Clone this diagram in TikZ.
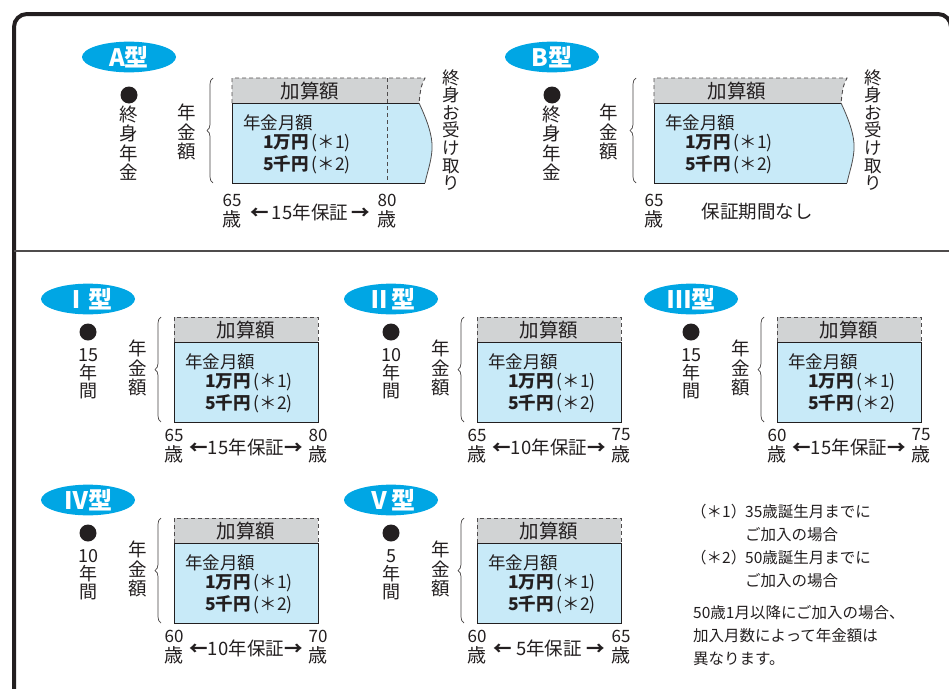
\documentclass[tikz,border=0pt]{standalone}
\usepackage{fontspec}
\setmainfont{Noto Sans CJK JP}
\usetikzlibrary{decorations.pathreplacing,calc,shapes.geometric}
\definecolor{ink}{HTML}{231F20}
\definecolor{hdrgray}{HTML}{D1D3D4}
\definecolor{bodyblue}{HTML}{C8EAF8}
\definecolor{lblcyan}{HTML}{00A6E4}
\newcommand\fsz[2]{\fontsize{#1}{#2}\selectfont}
\newcommand\la{\textbf{←}}
\newcommand\ra{\textbf{→}}
\tikzset{
  lbl/.style={ellipse,fill=lblcyan,minimum width=94pt,minimum height=30pt,inner sep=0pt,text=white,font=\fsz{24}{24}\bfseries},
  vtxt/.style={align=center,font=\fsz{18.5}{19.5}},
  vtxtn/.style={align=center,font=\fsz{18}{18}},
  hdrtxt/.style={font=\fsz{19.5}{19.5}},
  bodytxt/.style={font=\fsz{17.5}{17.5},anchor=west},
  agenum/.style={font=\fsz{17}{17}},
  agesai/.style={font=\fsz{19}{19}},
  midtxt/.style={font=\fsz{18.5}{18.5}},
  notetxt/.style={font=\fsz{15.5}{15.5},anchor=west},
  hdrline/.style={draw=ink!80,line width=0.9pt,dash pattern=on 4pt off 3pt},
  boxline/.style={draw=ink,line width=0.9pt},
  bracestyle/.style={draw=ink!85,line width=0.7pt,decorate,decoration={brace,amplitude=6pt}},
  dotstyle/.style={circle,fill=ink,minimum size=17pt,inner sep=0pt},
}
\newcommand\bodytexts[3]{% name, x0, y0
  \node[bodytxt] (#1m) at ({#2+11},{#3+45}) {年金月額};
  \node[bodytxt] (#1a) at ({#2+31},{#3+65}) {\textbf{1万円}\,(＊1)};
  \node[bodytxt] (#1b) at ({#2+31},{#3+87}) {\textbf{5千円}\,(＊2)};
}
% age stack: name, x, y(top number centre), number
\newcommand\agestack[4]{%
  \node[agenum] (#1n) at (#2,#3) {#4};
  \node[agesai] (#1y) at (#2,{#3+19}) {歳};
}
% small box: name, x0, y0, label, period, age1, middle, age2
\newcommand\rowbox[8]{%
  \fill[hdrgray] (#2,#3) rectangle ({#2+144},{#3+25});
  \fill[bodyblue] (#2,{#3+25}) rectangle ({#2+144},{#3+105});
  \draw[hdrline] (#2,{#3+25}) -- (#2,#3) -- ({#2+144},#3) -- ({#2+144},{#3+25});
  \draw[boxline] (#2,{#3+25}) rectangle ({#2+144},{#3+105});
  \node[hdrtxt] (#1h) at ({#2+72},{#3+13}) {加算額};
  \bodytexts{#1}{#2}{#3}
  \node[lbl] (#1l) at ({#2-86},{#3-18}) {#4};
  \node[dotstyle] (#1d) at ({#2-86},{#3+15}) {};
  \node[vtxtn] (#1p) at ({#2-86},{#3+57}) {#5};
  \node[vtxt] (#1k) at ({#2-36},{#3+51}) {年\\金\\額};
  \draw[bracestyle] ({#2-13},{#3+105}) -- ({#2-13},#3);
  \agestack{#1s}{#2}{#3+118}{#6}
  \agestack{#1e}{#2+144}{#3+118}{#8}
  \node[midtxt] (#1c) at ({#2+72},{#3+130}) {#7};
}
\begin{document}
\begin{tikzpicture}[x=1pt,y=-1pt,every node/.style={text=ink,inner sep=0pt}]
\useasboundingbox (0,0) rectangle (949,688);
\clip (0,0) rectangle (949,688);
% frame
\draw[ink,line width=4pt,rounded corners=13pt] (14,720) -- (14,14) -- (951,14) -- (951,720);
\draw[ink!80,line width=1.2pt] (14,251) -- (949,251);

% ---------- A type ----------
\fill[hdrgray] (232,78) -- (425,78) .. controls (421,86) .. (419,103) -- (232,103) -- cycle;
\fill[bodyblue] (232,103) -- (419,103) .. controls (426,118) and (433,135) .. (432,150) .. controls (431,163) and (427,173) .. (425,183) -- (232,183) -- cycle;
\draw[hdrline] (232,103) -- (232,78) -- (425,78) .. controls (421,86) .. (419,103);
\draw[boxline] (419,103) -- (232,103) -- (232,183) -- (425,183);
\draw[ink!80,line width=0.8pt] (419,103) .. controls (426,118) and (433,135) .. (432,150) .. controls (431,163) and (427,173) .. (425,183);
\draw[hdrline] (387,78) -- (387,183);
\node[hdrtxt] (Ah) at (310,91) {加算額};
\bodytexts{A}{232}{78}
\node[lbl] (Al) at (129,57) {A型};
\node[dotstyle] (Ad) at (129,95) {};
\node[vtxt] (Ap) at (129,143) {終\\身\\年\\金};
\node[vtxt] (Ak) at (187,132) {年\\金\\額};
\draw[bracestyle] (213,183) -- (213,78);
\node[align=center,font=\fsz{17.5}{17.6}] (Ar) at (451,130) {終\\身\\お\\受\\け\\取\\り};
\agestack{As}{232}{200}{65}
\agestack{Ae}{387}{200}{80}
\node[midtxt] (Ac) at (310,212) {\la\,15年保証\,\ra};

% ---------- B type ----------
\fill[hdrgray] (654,78) -- (847,78) .. controls (843,86) .. (841,103) -- (654,103) -- cycle;
\fill[bodyblue] (654,103) -- (841,103) .. controls (848,118) and (855,135) .. (854,150) .. controls (853,163) and (849,173) .. (847,183) -- (654,183) -- cycle;
\draw[hdrline] (654,103) -- (654,78) -- (847,78) .. controls (843,86) .. (841,103);
\draw[boxline] (841,103) -- (654,103) -- (654,183) -- (847,183);
\draw[ink!80,line width=0.8pt] (841,103) .. controls (848,118) and (855,135) .. (854,150) .. controls (853,163) and (849,173) .. (847,183);
\node[hdrtxt] (Bh) at (737,91) {加算額};
\bodytexts{B}{654}{78}
\node[lbl] (Bl) at (552,57) {B型};
\node[dotstyle] (Bd) at (552,95) {};
\node[vtxt] (Bp) at (552,143) {終\\身\\年\\金};
\node[vtxt] (Bk) at (609,132) {年\\金\\額};
\draw[bracestyle] (636,183) -- (636,78);
\node[align=center,font=\fsz{17.5}{17.6}] (Br) at (873,130) {終\\身\\お\\受\\け\\取\\り};
\agestack{Bs}{654}{200}{65}
\node[midtxt] (Bc) at (757,212) {保証期間なし};

% ---------- rows ----------
\rowbox{I}{174}{317}{Ⅰ型}{15\\年\\間}{65}{\la15年保証\ra}{80}
\rowbox{II}{477}{317}{Ⅱ型}{10\\年\\間}{65}{\la10年保証\ra}{75}
\rowbox{III}{777}{317}{Ⅲ型}{15\\年\\間}{60}{\la15年保証\ra}{75}
\rowbox{IV}{174}{518}{Ⅳ型}{10\\年\\間}{60}{\la10年保証\ra}{70}
\rowbox{V}{477}{518}{Ⅴ型}{5\\年\\間}{60}{\la\ 5年保証\ \ra}{65}

% ---------- notes ----------
\node[notetxt] (n1a) at (691,512) {（＊1）};
\node[notetxt] (n1b) at (745,512) {35歳誕生月までに};
\node[notetxt] (n1c) at (745,535) {ご加入の場合};
\node[notetxt] (n2a) at (691,558) {（＊2）};
\node[notetxt] (n2b) at (745,558) {50歳誕生月までに};
\node[notetxt] (n2c) at (745,581) {ご加入の場合};
\node[notetxt] (n3a) at (693,613) {50歳1月以降にご加入の場合、};
\node[notetxt] (n3b) at (693,636) {加入月数によって年金額は};
\node[notetxt] (n3c) at (693,659) {異なります。};
\end{tikzpicture}
\end{document}
